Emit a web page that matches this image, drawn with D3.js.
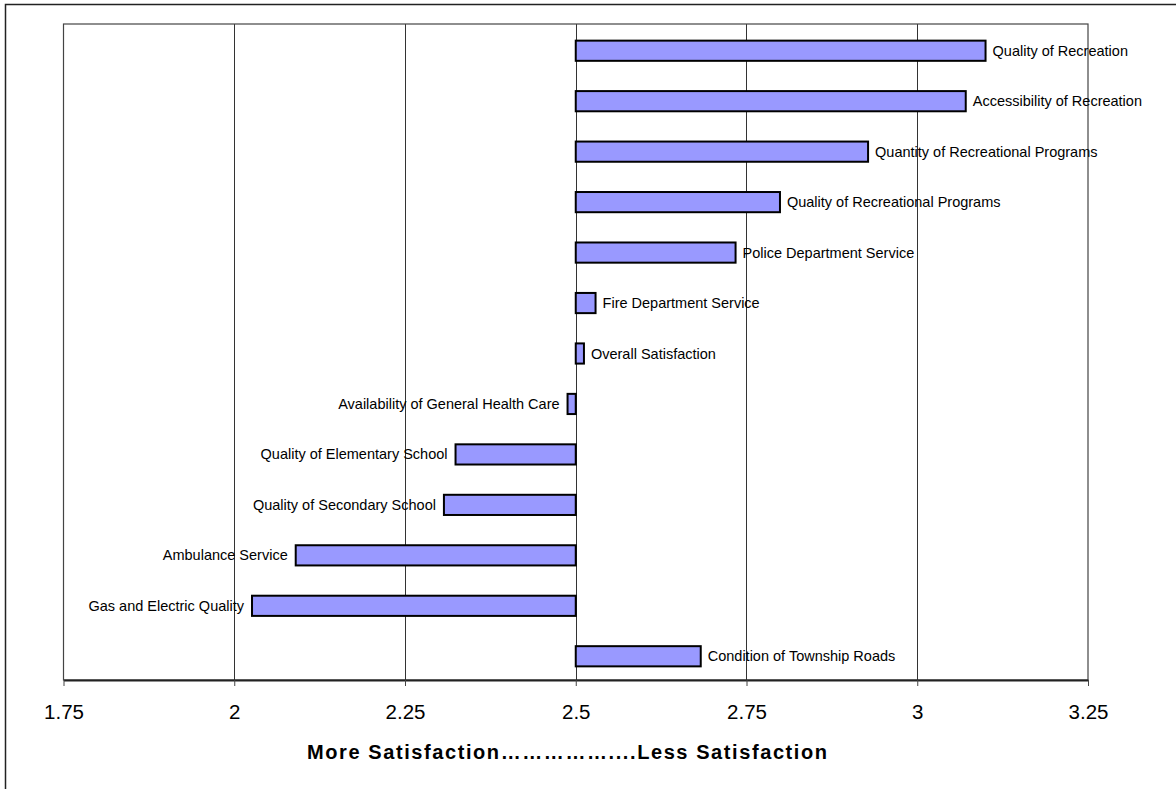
<!DOCTYPE html>
<html>
<head>
<meta charset="utf-8">
<script src="https://cdn.jsdelivr.net/npm/d3@7"></script>
<style>
  html, body { margin: 0; padding: 0; background: #fff; }
  svg { display: block; }
  text { font-family: "Liberation Sans", Arial, sans-serif; }
</style>
</head>
<body>
<svg id="chart" width="1176" height="789"></svg>
<script>
const categories = [
  "Quality of Recreation",
  "Accessibility of Recreation",
  "Quantity of Recreational Programs",
  "Quality of Recreational Programs",
  "Police Department Service",
  "Fire Department Service",
  "Overall Satisfaction",
  "Availability of General Health Care",
  "Quality of Elementary School",
  "Quality of Secondary School",
  "Ambulance Service",
  "Gas and Electric Quality",
  "Condition of Township Roads"
];
const values = [3.100, 3.071, 2.928, 2.799, 2.734, 2.529, 2.512, 2.488, 2.324, 2.307, 2.090, 2.026, 2.683];
const baseline = 2.5;
const tickValues = [1.75, 2, 2.25, 2.5, 2.75, 3, 3.25];
const tickLabels = ["1.75", "2", "2.25", "2.5", "2.75", "3", "3.25"];
const axisTitle = "More Satisfaction\u2026\u2026\u2026\u2026\u2026....Less Satisfaction";

const svg = d3.select("#chart");
const L = 63.5, R = 1088, T = 24, B = 680;

// outer frame
svg.append("rect").attr("x", 5.5).attr("y", 4.5).attr("width", 1180).attr("height", 800)
  .attr("fill", "none").attr("stroke", "#222").attr("stroke-width", 1.5);

const x = d3.scaleLinear().domain([1.75, 3.25]).range([L, R]);
const y = d3.scaleBand().domain(categories).range([T + 1.5, B + 1.5]).paddingInner(0.6).paddingOuter(0.3);

// gridlines
svg.append("g").selectAll("line").data(tickValues.slice(1, -1)).join("line")
  .attr("x1", d => Math.round(x(d)) + 0.5).attr("x2", d => Math.round(x(d)) + 0.5)
  .attr("y1", T).attr("y2", B)
  .attr("stroke", "#333").attr("stroke-width", 1);

// plot frame
svg.append("rect").attr("x", L).attr("y", T).attr("width", R - L).attr("height", B - T)
  .attr("fill", "none").attr("stroke", "#444").attr("stroke-width", 1.2);

// x axis
const axis = d3.axisBottom(x).tickValues(tickValues)
  .tickFormat((d, i) => tickLabels[i]).tickSize(6).tickSizeOuter(0).tickPadding(18);
const gx = svg.append("g").attr("transform", `translate(0,${B})`).call(axis);
gx.select(".domain").attr("stroke", "#222").attr("stroke-width", 2);
gx.selectAll(".tick line").attr("stroke", "#444").attr("stroke-width", 1);
gx.selectAll(".tick text").attr("font-size", 20.5).attr("fill", "#000")
  .attr("font-family", "Liberation Sans, Arial, sans-serif");

// bars
svg.append("g").selectAll("rect").data(categories).join("rect")
  .attr("x", (d, i) => x(Math.min(values[i], baseline)))
  .attr("y", d => y(d))
  .attr("width", (d, i) => Math.abs(x(values[i]) - x(baseline)))
  .attr("height", y.bandwidth())
  .attr("fill", "#9999FF").attr("stroke", "#000").attr("stroke-width", 2);

// labels
svg.append("g").selectAll("text").data(categories).join("text")
  .attr("x", (d, i) => values[i] >= baseline ? x(values[i]) + 7 : x(values[i]) - 8)
  .attr("y", d => y(d) + y.bandwidth() / 2)
  .attr("dy", "0.35em")
  .attr("text-anchor", (d, i) => values[i] >= baseline ? "start" : "end")
  .attr("font-size", 14.5).attr("fill", "#000")
  .text(d => d);

// axis title
svg.append("text").attr("x", 567).attr("y", 759).attr("text-anchor", "middle")
  .attr("font-size", 20).attr("font-weight", "bold").attr("fill", "#000")
  .attr("textLength", 520).attr("lengthAdjust", "spacing")
  .text(axisTitle);
</script>
</body>
</html>
